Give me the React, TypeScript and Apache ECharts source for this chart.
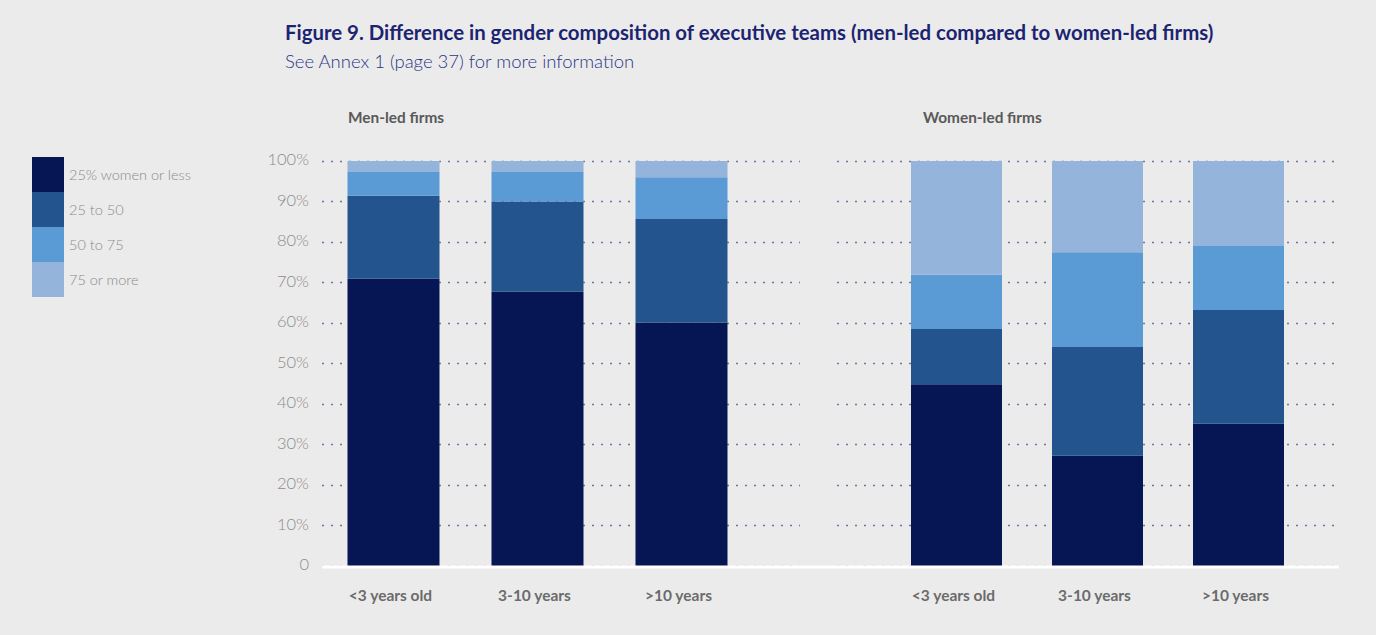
import React, { useEffect, useRef } from "react";
import * as echarts from "echarts";

const categories = ["<3 years old", "3-10 years", ">10 years"];
const seriesNames = ["25% women or less", "25 to 50", "50 to 75", "75 or more"];
const colors = ["#061654", "#24548e", "#5a9ad5", "#94b4dc"];

const menLed25OrLess = [70.9, 67.7, 60.1];
const menLed25to50 = [20.5, 22.3, 25.6];
const menLed50to75 = [5.9, 7.3, 10.3];
const menLed75More = [2.7, 2.7, 4.0];

const womenLed25OrLess = [44.9, 27.2, 35.1];
const womenLed25to50 = [13.6, 26.9, 28.1];
const womenLed50to75 = [13.4, 23.4, 15.8];
const womenLed75More = [28.1, 22.5, 21.0];

const FONT = "Lato, 'Open Sans', sans-serif";

export default function App() {
  const ref = useRef<HTMLDivElement>(null);
  useEffect(() => {
    document.body.style.margin = "0";
    document.body.style.background = "#ebebeb";
    const chart = echarts.init(ref.current!, null, { renderer: "svg" });
    const top = 161;
    const h = 405;
    const grids = [
      { left: 322, top, width: 478, height: h },
      { left: 837, top, width: 500, height: h },
      { left: 321.5, top, width: 432, height: h },
      { left: 886, top, width: 423, height: h },
    ];
    const splitLine = {
      show: true,
      lineStyle: { color: "#6f76a3", type: [2, 7] as any, width: 1.4 },
    };
    const yAxes = grids.map((_, i) => ({
      type: "value",
      gridIndex: i,
      min: 0,
      max: 100,
      interval: 10,
      axisLine: { show: false },
      axisTick: { show: false },
      splitLine: i < 2 ? splitLine : { show: false },
      axisLabel:
        i === 0
          ? {
              show: true,
              margin: 13,
              color: "#8c8c8c",
              fontSize: 16.5,
              fontWeight: 300,
              fontFamily: FONT,
              verticalAlign: "bottom",
              lineHeight: 18,
              padding: [0, 0, -7, 0],
              formatter: (v: number) => (v === 0 ? "0" : v + "%"),
            }
          : { show: false },
    }));
    const xAxes = grids.map((_, i) => ({
      type: "category",
      gridIndex: i,
      data: categories,
      axisLine: { show: false },
      axisTick: { show: false },
      splitLine: { show: false },
      axisLabel:
        i >= 2
          ? {
              show: true,
              margin: 21,
              color: "#6b6b6b",
              fontSize: 15.5,
              fontWeight: "bold",
              fontFamily: FONT,
              padding: [0, 6, 0, 0],
            }
          : { show: false },
    }));
    const menData = [menLed25OrLess, menLed25to50, menLed50to75, menLed75More];
    const womenData = [womenLed25OrLess, womenLed25to50, womenLed50to75, womenLed75More];
    const series: any[] = [];
    menData.forEach((d, k) =>
      series.push({
        type: "bar",
        name: seriesNames[k],
        stack: "men",
        xAxisIndex: 2,
        yAxisIndex: 2,
        data: d,
        barWidth: 92,
        itemStyle: { color: colors[k] },
        z: 3,
      })
    );
    womenData.forEach((d, k) =>
      series.push({
        type: "bar",
        name: seriesNames[k],
        stack: "women",
        xAxisIndex: 3,
        yAxisIndex: 3,
        data: d,
        barWidth: 91,
        itemStyle: { color: colors[k] },
        z: 3,
      })
    );
    chart.setOption({
      animation: false,
      backgroundColor: "#ebebeb",
      color: colors,
      title: [
        {
          text: "Figure 9. Difference in gender composition of executive teams (men-led compared to women-led firms)",
          left: 285,
          top: 22,
          padding: 0,
          textStyle: { color: "#1c2472", fontSize: 20.4, fontWeight: "bold", fontFamily: FONT },
        },
        {
          text: "See Annex 1 (page 37) for more information",
          left: 285,
          top: 51,
          padding: 0,
          textStyle: { color: "#2b3585", fontSize: 18.5, fontWeight: 300, fontFamily: FONT },
        },
        {
          text: "Men-led firms",
          left: 348,
          top: 109,
          padding: 0,
          textStyle: { color: "#595959", fontSize: 15.4, fontWeight: "bold", fontFamily: FONT },
        },
        {
          text: "Women-led firms",
          left: 923,
          top: 109,
          padding: 0,
          textStyle: { color: "#595959", fontSize: 15.4, fontWeight: "bold", fontFamily: FONT },
        },
      ],
      legend: {
        data: seriesNames,
        orient: "vertical",
        left: 32,
        top: 157,
        padding: 0,
        itemWidth: 32,
        itemHeight: 35,
        itemGap: 0,
        icon: "rect",
        selectedMode: false,
        textStyle: { color: "#8a8a8a", fontSize: 14.5, fontWeight: 300, fontFamily: FONT },
      },
      grid: grids,
      xAxis: xAxes,
      yAxis: yAxes,
      series,
      graphic: [
        {
          type: "line",
          shape: { x1: 322, y1: 567, x2: 1339, y2: 567 },
          style: { stroke: "#ffffff", lineWidth: 3 },
          z: 100,
        },
      ],
    });
    return () => chart.dispose();
  }, []);
  return (
    <div
      ref={ref}
      style={{ position: "absolute", left: 0, top: 0, width: 1376, height: 635 }}
    />
  );
}
